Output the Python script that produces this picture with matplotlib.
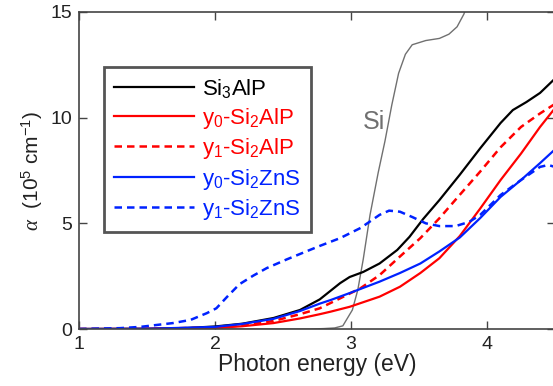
import numpy as np
import matplotlib.pyplot as plt

plt.rcParams['font.family'] = ['Liberation Sans', 'DejaVu Sans']
plt.rcParams['mathtext.fontset'] = 'custom'
plt.rcParams['mathtext.rm'] = 'Liberation Sans'
plt.rcParams['mathtext.it'] = 'Liberation Serif:italic'

# photon energy (eV) and absorption coefficient (10^5 cm^-1)
x_si3alp = [1.0, 1.5, 1.8, 2.0, 2.2, 2.43, 2.625, 2.77, 2.92, 2.99, 3.09, 3.21, 3.34,
            3.43, 3.53, 3.65, 3.8, 3.95, 4.1, 4.19, 4.29, 4.39, 4.5]
y_si3alp = [0.0, 0.01, 0.05, 0.12, 0.25, 0.52, 0.9, 1.4, 2.17, 2.46, 2.7, 3.1, 3.74,
            4.36, 5.2, 6.1, 7.3, 8.55, 9.75, 10.36, 10.74, 11.17, 11.85]

x_y0_si2alp = [1.0, 1.5, 2.0, 2.2, 2.43, 2.625, 2.77, 2.85, 2.99, 3.21, 3.36, 3.51, 3.65,
               3.8, 3.95, 4.1, 4.25, 4.39, 4.5]
y_y0_si2alp = [0.0, 0.01, 0.05, 0.13, 0.28, 0.5, 0.7, 0.82, 1.05, 1.53, 2.0, 2.65, 3.35,
               4.4, 5.7, 7.05, 8.3, 9.56, 10.45]

x_y1_si2alp = [1.0, 1.5, 2.0, 2.2, 2.43, 2.625, 2.77, 2.92, 3.07, 3.21, 3.36, 3.51, 3.65,
               3.8, 3.95, 4.1, 4.25, 4.39, 4.5]
y_y1_si2alp = [0.0, 0.01, 0.07, 0.17, 0.38, 0.7, 0.98, 1.45, 1.93, 2.55, 3.43, 4.3, 5.24,
               6.35, 7.45, 8.6, 9.56, 10.2, 10.65]

x_y0_si2zns = [1.0, 1.5, 2.0, 2.2, 2.43, 2.625, 2.77, 2.85, 2.99, 3.21, 3.36, 3.51, 3.65,
               3.8, 3.95, 4.1, 4.25, 4.39, 4.5]
y_y0_si2zns = [0.0, 0.01, 0.1, 0.24, 0.48, 0.85, 1.2, 1.37, 1.7, 2.24, 2.65, 3.1, 3.67,
               4.33, 5.25, 6.25, 7.05, 7.85, 8.5]

x_y1_si2zns = [1.0, 1.3, 1.45, 1.69, 1.82, 1.94, 2.01, 2.09, 2.18, 2.28, 2.38, 2.53, 2.625,
               2.77, 2.92, 3.07, 3.21, 3.28, 3.36, 3.45, 3.55, 3.65, 3.77, 3.87, 3.95,
               4.1, 4.25, 4.39, 4.45, 4.5]
y_y1_si2zns = [0.0, 0.04, 0.1, 0.28, 0.43, 0.75, 0.98, 1.53, 2.12, 2.52, 2.88, 3.3, 3.55,
               3.93, 4.3, 4.78, 5.4, 5.6, 5.55, 5.3, 5.0, 4.87, 4.87, 5.07, 5.4,
               6.34, 7.05, 7.67, 7.76, 7.67]

x_si = [1.0, 2.7, 2.8, 2.88, 2.94, 3.01, 3.05, 3.09, 3.14, 3.2, 3.25, 3.3, 3.35, 3.4,
        3.45, 3.55, 3.65, 3.72, 3.78, 3.83, 3.88, 3.95]
y_si = [0.0, 0.0, 0.02, 0.05, 0.15, 0.9, 1.85, 3.3, 5.4, 7.4, 8.9, 10.6, 12.1, 13.0,
        13.45, 13.65, 13.75, 13.95, 14.3, 14.9, 15.8, 17.0]

fig = plt.figure(figsize=(5.53, 3.86), dpi=100)
ax = fig.add_axes([79/553, 57/386, 476/553, 317/386])

ax.plot(x_si, y_si, color='#707070', lw=1.0)
ax.plot(x_si3alp, y_si3alp, color='black', lw=1.6, label=r'Si$_3$AlP')
ax.plot(x_y0_si2alp, y_y0_si2alp, color='#ff0000', lw=1.6, label=r'y$_0$-Si$_2$AlP')
ax.plot(x_y1_si2alp, y_y1_si2alp, color='#ff0000', lw=1.8, ls=(0, (3, 2)),
        label=r'y$_1$-Si$_2$AlP')
ax.plot(x_y0_si2zns, y_y0_si2zns, color='#0022ff', lw=1.6, label=r'y$_0$-Si$_2$ZnS')
ax.plot(x_y1_si2zns, y_y1_si2zns, color='#0022ff', lw=1.8, ls=(0, (3, 2)),
        label=r'y$_1$-Si$_2$ZnS')

ax.text(3.17, 9.8, 'Si', color='#707070', fontsize=18, ha='center', va='center')

ax.set_xlim(1, 4.5)
ax.set_ylim(0, 15)
ax.set_xticks([1, 2, 3, 4])
ax.set_yticks([0, 5, 10, 15])
ax.tick_params(direction='in', top=True, right=True, length=6, width=1,
               color='#444444', labelcolor='#222222', labelsize=14, pad=5)
for s in ax.spines.values():
    s.set_color('#444444')
    s.set_linewidth(1.2)

ax.set_xlabel('Photon energy (eV)', fontsize=16.5, color='#222222', labelpad=0)
ax.set_ylabel(r'$\alpha$  (10$^5$ cm$^{-1}$)', fontsize=15, color='#222222', labelpad=4)

leg = ax.legend(loc='upper left', bbox_to_anchor=(25/476, 262/317), borderaxespad=0,
                fontsize=16, handlelength=3.6, handletextpad=0.35, labelspacing=0.25,
                fancybox=False, framealpha=1, borderpad=0.45)
leg.get_frame().set_edgecolor('#555555')
leg.get_frame().set_linewidth(2)
for txt, line in zip(leg.get_texts(), leg.get_lines()):
    txt.set_color(line.get_color())

fig.savefig('out.png', dpi=100)
